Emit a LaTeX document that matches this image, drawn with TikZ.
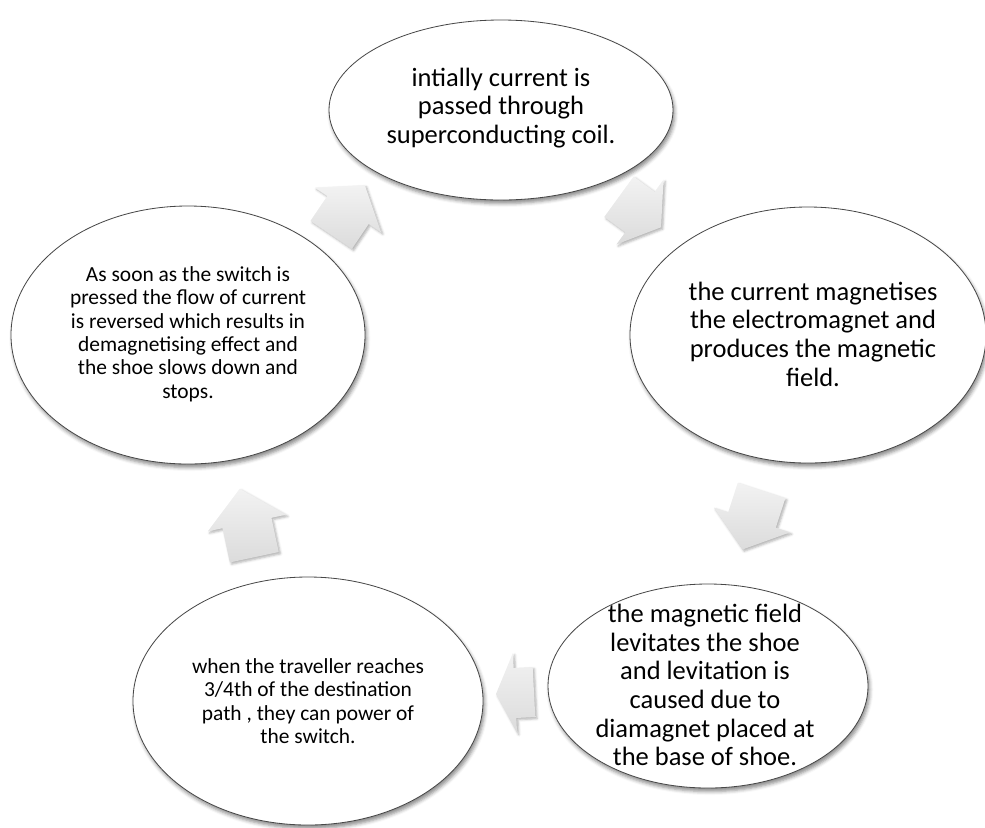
\documentclass[tikz,border=0pt]{standalone}
\usepackage{fontspec}
\setmainfont{Carlito}
\usetikzlibrary{shapes.geometric,shadows.blur}
\tikzset{
  ell/.style={ellipse, draw=black!72, line width=0.7pt, fill=white, inner sep=0pt,
    blur shadow={shadow xshift=1.5pt, shadow yshift=-3pt, shadow blur radius=3pt, shadow opacity=45}},
  bigtxt/.style={align=center, inner sep=0pt, font=\fontsize{22.6pt}{24.5pt}\selectfont},
  smalltxt/.style={align=center, inner sep=0pt, font=\fontsize{18.3pt}{20pt}\selectfont},
  arrowfill/.style={top color=black!5, bottom color=black!14, draw=none,
    blur shadow={shadow xshift=1.5pt, shadow yshift=-1.5pt, shadow blur radius=2pt, shadow opacity=30}}
}
% #1 centre, #2 direction, #3 length
\newcommand\blkarrow[3]{%
  \path[arrowfill, shift={(#1)}, rotate=#2]
    ({-#3/2},-25) -- (0,-25) -- (0,-40) -- ({#3/2},0) -- (0,40) -- (0,25) -- ({-#3/2},25) -- cycle;}
\begin{document}
\begin{tikzpicture}[x=0.03cm, y=-0.03cm]
\useasboundingbox (0,0) rectangle (985,827);
% ellipses
\node[ell, minimum width=10.32cm, minimum height=5.4cm] (e1) at (501,110) {};
\node[ell, minimum width=10.68cm, minimum height=7.68cm] (e2) at (808,335) {};
\node[ell, minimum width=9.6cm, minimum height=6.12cm] (e3) at (708,686) {};
\node[ell, minimum width=10.5cm, minimum height=7.44cm] (e4) at (308,701) {};
\node[ell, minimum width=10.62cm, minimum height=7.74cm] (e5) at (188,335) {};
% texts
\node[bigtxt] (t1) at (501,108) {intially current is\\passed through\\superconducting coil.};
\node[bigtxt] (t2) at (813,334) {the current magnetises\\the electromagnet and\\produces the magnetic\\field.};
\node[bigtxt] (t3) at (705,685) {the magnetic field\\levitates the shoe\\and levitation is\\caused due to\\diamagnet placed at\\the base of shoe.};
\node[smalltxt] (t4) at (308,701) {when the traveller reaches\\3/4th of the destination\\path , they can power of\\the switch.};
\node[smalltxt] (t5) at (188,334) {As soon as the switch is\\pressed the flow of current\\is reversed which results in\\demagnetising effect and\\the shoe slows down and\\stops.};
% arrows
\coordinate (a1) at (348,210);
\coordinate (a2) at (640,212);
\coordinate (a3) at (752,520);
\coordinate (a4) at (515,693);
\coordinate (a5) at (247,523);
\blkarrow{a1}{56}{60}
\blkarrow{a2}{-36}{52}
\blkarrow{a3}{-108}{62}
\blkarrow{a4}{-177}{38}
\blkarrow{a5}{102}{70}
\end{tikzpicture}
\end{document}
